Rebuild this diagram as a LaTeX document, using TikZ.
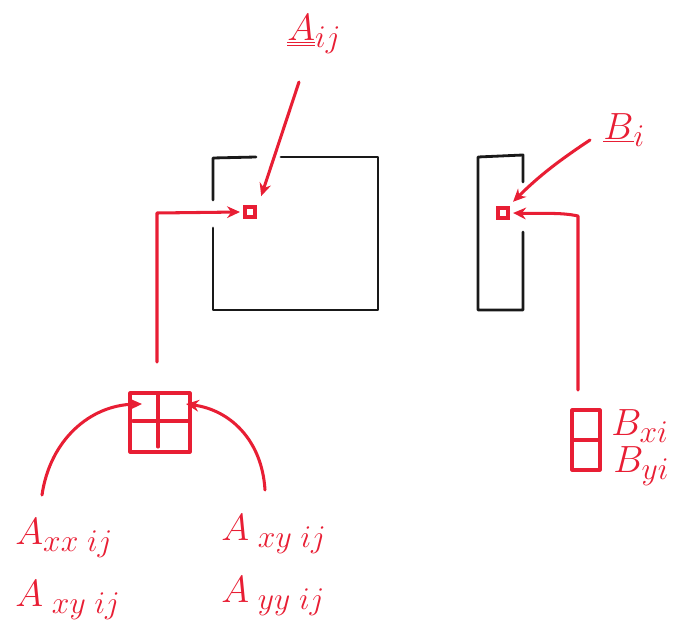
\documentclass[tikz,border=0pt]{standalone}
\usepackage{graphicx}
\usetikzlibrary{arrows.meta}
\definecolor{pen}{RGB}{232,30,52}
\definecolor{ink}{RGB}{25,25,25}
\newcommand{\biglbl}[1]{\scalebox{1.3}{\Huge$#1$}}
\tikzset{
  blk/.style={draw=ink, line width=2.4pt, line cap=round, line join=round},
  redl/.style={draw=pen, line width=2.6pt, line cap=round, line join=round},
  redar/.style={redl, -{Stealth[length=11pt,width=10pt]}},
  sq/.style={draw=pen, line width=2.6pt, minimum size=3mm, inner sep=0pt},
  lbl/.style={text=pen, inner sep=1pt, anchor=west}
}
\begin{document}
\begin{tikzpicture}[x=0.3mm, y=-0.3mm]
\useasboundingbox (0,0) rectangle (692,627);
% matrix block
\draw[blk] (256,157) -- (213,158) -- (213,200);
\draw[blk] (213,228) -- (213,310) -- (378,310) -- (378,157) -- (281,157);
% vector block
\draw[blk] (523,182) -- (523,155) -- (478,157) -- (478,310) -- (523,310) -- (523,232);
% small squares
\node[sq] (aij) at (250,212) {};
\node[sq] (bi) at (503,213) {};
% 2x2 block
\coordinate (g1) at (130,393);
\coordinate (g2) at (190,452);
\draw[redl] (g1) rectangle (g2);
\draw[redl] (158,393) -- (158,447);
\draw[redl] (133,421) -- (188,421);
\node[inner sep=0pt, minimum width=18mm, minimum height=17.7mm] (grid) at (160,422.5) {};
% vector pair block
\draw[redl] (572,410) rectangle (600,470);
\draw[redl] (572,440) -- (600,440);
\node[inner sep=0pt, minimum width=8.4mm, minimum height=18mm] (bpair) at (586,440) {};
% labels
\node[lbl] (lA) at (286,34) {\biglbl{\underline{\underline{A}}_{ij}}};
\node[lbl] (lB) at (602,130) {\biglbl{\underline{B}_{i}}};
\node[lbl] (lBx) at (610,426) {\biglbl{B_{xi}}};
\node[lbl] (lBy) at (612,466) {\biglbl{B_{yi}}};
\node[lbl] (lA1) at (14,538) {\biglbl{A_{xx\;ij}}};
\node[lbl] (lA2) at (14,600) {\biglbl{A_{\;xy\;ij}}};
\node[lbl] (lA3) at (220,534) {\biglbl{A_{\;xy\;ij}}};
\node[lbl] (lA4) at (220,596) {\biglbl{A_{\;yy\;ij}}};
% connectors
\coordinate (sA) at (299,82);
\coordinate (sB) at (590,140);
\draw[redar] (sA) -- ([xshift=4pt,yshift=8pt]aij.north east);
\draw[redar] (sB) .. controls (560,160) and (540,175) .. ([xshift=3pt,yshift=4pt]bi.north east);
\coordinate (up1) at (157,362);
\draw[redar] (up1) -- (157,213) -- ([xshift=-3pt]aij.west);
\coordinate (up2) at (578,390);
\draw[redar] (up2) -- (578,216) .. controls (560,212) and (540,214) .. ([xshift=3pt]bi.east);
\coordinate (c1) at (42,495);
\coordinate (c2) at (265,490);
\draw[redar] (c1) .. controls (50,440) and (90,405) .. (142,404);
\draw[redar] (c2) .. controls (262,440) and (230,410) .. (186,404);
\end{tikzpicture}
\end{document}
